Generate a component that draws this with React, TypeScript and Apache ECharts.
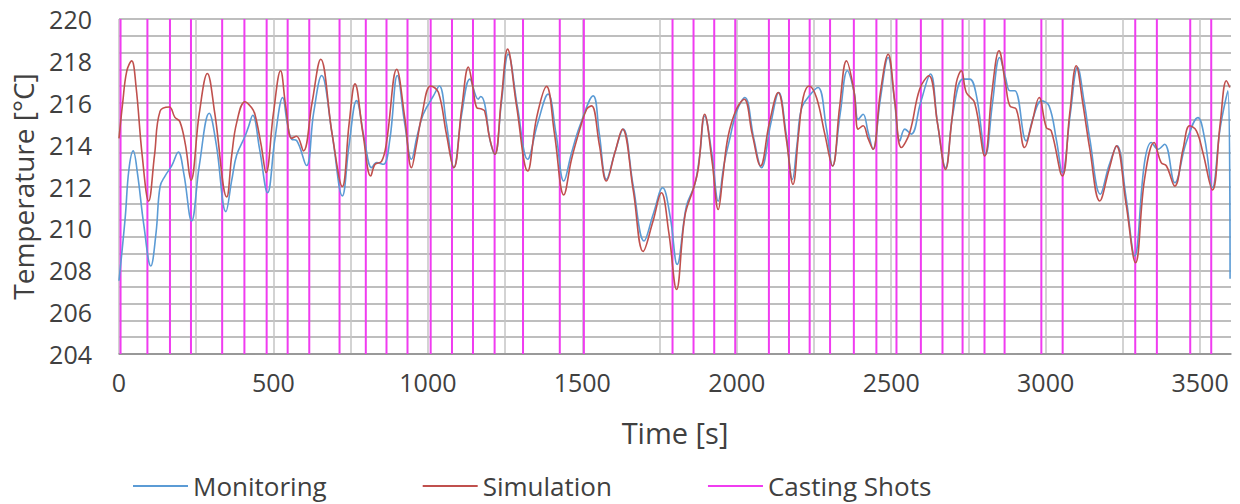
import React, { useEffect, useRef } from "react";
import * as echarts from "echarts";

// Casting shot times [s]
const castingShots = [
  5, 92, 165, 233, 334, 406, 478, 546, 616, 714, 799, 866, 934, 1009, 1078, 1146,
  1216, 1308, 1427, 1505, 1792, 1860, 1927, 1995, 2104, 2169, 2236, 2302, 2379,
  2452, 2517, 2596, 2666, 2731, 2802, 2867, 2986, 3055, 3290, 3360, 3468, 3536,
];

// Monitoring: [time s, temperature °C]
const monitoring = [
  [0, 207.5], [20, 210.5], [32, 212.8], [46, 213.7], [60, 212.6], [80, 210.2], [103, 208.2],
  [120, 209.8], [133, 212.0], [149, 212.5], [171, 213.0], [192, 213.65], [210, 212.6], [235, 210.35],
  [260, 213.0], [292, 215.5], [315, 214.0], [346, 210.8], [365, 212.3], [381, 213.5], [408, 214.4],
  [418, 214.8], [433, 215.4], [455, 213.8], [481, 211.7], [505, 214.3], [530, 216.25], [545, 215.0],
  [559, 214.26], [575, 214.2], [607, 213.0], [630, 215.5], [656, 217.3], [690, 214.5], [723, 211.55],
  [745, 214.0], [769, 216.1], [795, 214.2], [818, 212.9], [834, 213.14], [856, 213.06], [877, 214.26],
  [901, 217.3], [925, 215.0], [947, 213.3], [965, 214.4], [985, 215.45], [1017, 216.3], [1037, 216.8],
  [1060, 215.0], [1084, 212.9], [1110, 215.5], [1136, 217.13], [1163, 216.17], [1171, 216.3],
  [1184, 215.93], [1200, 214.3], [1217, 213.54], [1238, 216.0], [1260, 218.32], [1290, 215.8],
  [1323, 213.3], [1355, 215.0], [1389, 216.41], [1415, 214.5], [1440, 212.26], [1465, 213.6],
  [1492, 214.9], [1535, 216.33], [1555, 214.5], [1578, 212.34], [1605, 213.6], [1632, 214.74],
  [1665, 212.0], [1700, 209.4], [1730, 210.7], [1760, 211.94], [1785, 210.5], [1807, 208.28],
  [1837, 211.07], [1864, 212.1], [1880, 213.5], [1896, 215.37], [1920, 213.5], [1940, 211.3],
  [1958, 213.0], [1977, 214.26], [2000, 215.6], [2026, 216.25], [2055, 214.3], [2080, 212.9],
  [2110, 215.0], [2136, 216.49], [2160, 214.5], [2180, 212.34], [2195, 214.0], [2209, 215.69],
  [2235, 216.33], [2263, 216.73], [2290, 214.8], [2310, 212.98], [2335, 215.5], [2358, 217.53],
  [2380, 216.5], [2393, 215.2], [2409, 215.45], [2425, 214.6], [2441, 213.78], [2465, 216.2],
  [2490, 218.16], [2510, 216.2], [2528, 214.18], [2544, 214.74], [2565, 214.5], [2595, 216.0],
  [2627, 217.37], [2650, 215.0], [2676, 212.9], [2700, 215.5], [2732, 217.13], [2754, 217.13],
  [2776, 216.33], [2806, 213.54], [2828, 216.0], [2851, 218.16], [2870, 217.2], [2884, 216.57],
  [2900, 216.57], [2937, 214.18], [2960, 215.3], [2986, 216.09], [3011, 215.85], [3035, 214.2],
  [3054, 212.66], [3080, 215.5], [3103, 217.69], [3125, 216.0], [3143, 214.26], [3177, 211.63],
  [3205, 213.0], [3231, 213.94], [3260, 211.5], [3288, 208.68], [3320, 213.14], [3342, 214.1],
  [3364, 213.78], [3385, 214.02], [3418, 212.18], [3455, 214.1], [3493, 215.29], [3515, 214.26],
  [3540, 211.94], [3565, 214.8], [3590, 216.57], [3597, 207.6],
];

// Simulation: [time s, temperature °C]
const simulation = [
  [0, 214.3], [12, 216.0], [25, 217.5], [41, 218.0], [55, 216.8], [75, 213.5], [96, 211.3],
  [115, 213.5], [133, 215.6], [163, 215.8], [181, 215.3], [197, 215.1], [215, 214.0], [233, 212.3],
  [260, 215.5], [286, 217.4], [310, 215.5], [349, 211.5], [365, 213.5], [381, 215.05], [408, 216.05],
  [429, 215.77], [440, 215.45], [460, 214.0], [476, 212.66], [500, 215.5], [523, 217.53], [540, 215.8],
  [559, 214.3], [575, 214.4], [597, 213.7], [625, 216.0], [653, 218.08], [690, 214.5], [723, 212.0],
  [745, 215.0], [764, 216.9], [790, 214.5], [815, 212.5], [829, 213.06], [850, 213.2], [866, 214.1],
  [899, 217.6], [925, 215.3], [947, 212.9], [963, 214.0], [980, 215.37], [1009, 216.8], [1034, 216.5],
  [1060, 214.5], [1084, 212.9], [1110, 215.8], [1131, 217.7], [1145, 216.8], [1158, 215.77],
  [1174, 215.7], [1184, 215.6], [1200, 214.3], [1217, 213.54], [1238, 216.2], [1258, 218.56],
  [1287, 215.85], [1323, 212.74], [1352, 215.29], [1384, 216.78], [1410, 214.5], [1440, 211.6],
  [1465, 213.3], [1492, 214.74], [1514, 215.69], [1530, 215.85], [1555, 214.0], [1578, 212.26],
  [1605, 213.6], [1630, 214.74], [1665, 211.8], [1697, 208.9], [1728, 210.3], [1756, 211.7],
  [1780, 209.8], [1805, 207.08], [1832, 210.59], [1859, 211.87], [1875, 212.82], [1896, 215.45],
  [1920, 213.2], [1940, 210.9], [1955, 212.5], [1972, 214.4], [1999, 215.7], [2024, 216.17],
  [2050, 214.5], [2077, 212.98], [2105, 215.0], [2134, 216.49], [2160, 214.3], [2182, 212.1],
  [2200, 214.5], [2215, 216.25], [2234, 216.8], [2258, 216.25], [2285, 214.5], [2310, 212.98],
  [2333, 215.8], [2355, 218.0], [2380, 216.5], [2393, 214.74], [2409, 214.9], [2425, 214.3],
  [2441, 213.78], [2465, 216.5], [2490, 218.32], [2512, 216.0], [2533, 213.86], [2560, 214.58],
  [2592, 216.65], [2622, 217.29], [2650, 215.0], [2676, 212.82], [2695, 215.0], [2711, 216.97],
  [2727, 217.53], [2743, 216.49], [2770, 216.0], [2803, 213.46], [2826, 216.5], [2849, 218.48],
  [2870, 216.9], [2884, 215.85], [2905, 215.69], [2932, 213.86], [2955, 215.0], [2979, 216.25],
  [3002, 214.82], [3018, 214.66], [3054, 212.5], [3078, 215.5], [3099, 217.77], [3120, 216.0],
  [3143, 213.78], [3175, 211.31], [3205, 212.8], [3229, 213.94], [3260, 211.2], [3291, 208.36],
  [3320, 212.34], [3351, 214.1], [3374, 213.14], [3391, 212.98], [3418, 212.02], [3445, 213.8],
  [3466, 214.9], [3488, 214.66], [3509, 213.62], [3540, 211.83], [3565, 215.0], [3585, 217.05],
  [3596, 216.73],
];

const Y_MIN = 204;
const Y_MAX = 220;
const X_MIN = 0;
const X_MAX = 3600;

const FONT = "'Open Sans', 'Noto Sans', sans-serif";
const TEXT_COLOR = "#404040";

export default function App() {
  const ref = useRef<HTMLDivElement>(null);

  useEffect(() => {
    document.body.style.margin = "0";
    if (!ref.current) return;
    const chart = echarts.init(ref.current, null, { renderer: "svg" });

    const shotData: any[] = [];
    castingShots.forEach((t) => {
      shotData.push([t, Y_MIN], [t, Y_MAX], [t, "-"]);
    });

    chart.setOption({
      animation: false,
      textStyle: { fontFamily: FONT },
      grid: { left: 119, right: 9, top: 19, bottom: 150, containLabel: false },
      legend: {
        data: ["Monitoring", "Simulation", "Casting Shots"],
        left: 133,
        top: 472,
        padding: 0,
        icon: "rect",
        itemWidth: 55,
        itemHeight: 2,
        itemGap: 96,
        textStyle: { fontSize: 26, lineHeight: 28, color: TEXT_COLOR, fontFamily: FONT },
      },
      xAxis: {
        type: "value",
        min: X_MIN,
        max: X_MAX,
        interval: 250,
        name: "Time [s]",
        nameLocation: "middle",
        nameGap: 64,
        nameTextStyle: { fontSize: 29, color: TEXT_COLOR, fontFamily: FONT },
        axisLine: { show: true, lineStyle: { color: "#8c8c8c", width: 1.5 } },
        axisTick: { show: false },
        splitLine: { show: true, showMaxLine: false, lineStyle: { color: "#c4c4c4", width: 1.5 } },
        axisLabel: {
          formatter: (v: number) => (v % 500 === 0 ? String(v) : ""),
          fontSize: 25,
          color: TEXT_COLOR,
          margin: 15,
          fontFamily: FONT,
        },
      },
      yAxis: [
        {
          type: "value",
          min: Y_MIN,
          max: Y_MAX,
          interval: 2,
          position: "left",
          name: "Temperature [°C]",
          nameLocation: "middle",
          nameGap: 82,
          nameTextStyle: { fontSize: 28, color: TEXT_COLOR, fontFamily: FONT },
          axisLine: { show: false },
          axisTick: { show: false },
          splitLine: { show: false },
          axisLabel: { fontSize: 25, color: TEXT_COLOR, margin: 27, fontFamily: FONT },
        },
        {
          type: "value",
          min: Y_MIN,
          max: Y_MAX,
          interval: 0.8,
          position: "left",
          axisLine: { show: false },
          axisTick: { show: false },
          axisLabel: { show: false },
          splitLine: { show: true, lineStyle: { color: "#a9a9a9", width: 1.5 } },
        },
      ],
      series: [
        {
          name: "Casting Shots",
          type: "line",
          yAxisIndex: 0,
          data: shotData,
          symbol: "none",
          connectNulls: false,
          color: "#F03CF0",
          lineStyle: { color: "#F03CF0", width: 2 },
        },
        {
          name: "Monitoring",
          type: "line",
          yAxisIndex: 0,
          data: monitoring,
          symbol: "none",
          smooth: 0.4,
          color: "#5B9BD5",
          lineStyle: { color: "#5B9BD5", width: 1.6 },
        },
        {
          name: "Simulation",
          type: "line",
          yAxisIndex: 0,
          data: simulation,
          symbol: "none",
          smooth: 0.4,
          color: "#C0504D",
          lineStyle: { color: "#C0504D", width: 1.6 },
        },
      ],
    });

    return () => chart.dispose();
  }, []);

  return <div ref={ref} style={{ width: 1240, height: 504 }} />;
}
